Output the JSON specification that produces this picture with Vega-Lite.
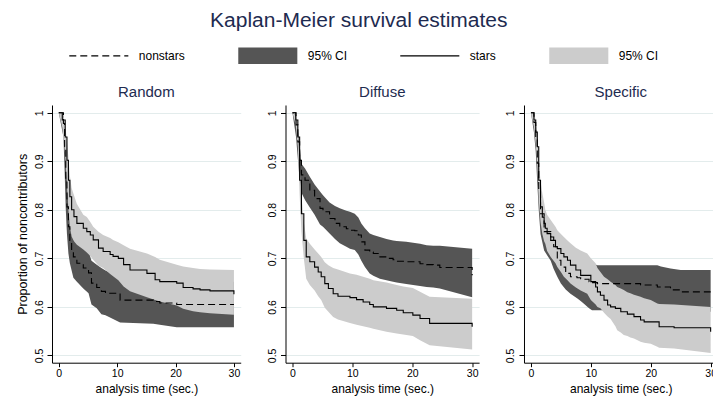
{
  "$schema": "https://vega.github.io/schema/vega-lite/v6.json",
  "background": "white",
  "padding": {"left": 16, "top": 10, "right": 0, "bottom": 6},
  "title": {"text": "Kaplan-Meier survival estimates", "fontSize": 21, "anchor": "middle", "frame": "bounds", "offset": 16.3, "dx": -8},
  "datasets": {
    "km": [
      {"p":"Random","g":"nonstars","t":0,"s":1,"lo":1,"hi":1},
      {"p":"Random","g":"nonstars","t":0.8,"s":0.978,"lo":0.95,"hi":0.995},
      {"p":"Random","g":"nonstars","t":1.0,"s":0.93,"lo":0.88,"hi":0.97},
      {"p":"Random","g":"nonstars","t":1.2,"s":0.861,"lo":0.80,"hi":0.91},
      {"p":"Random","g":"nonstars","t":1.4,"s":0.806,"lo":0.75,"hi":0.86},
      {"p":"Random","g":"nonstars","t":1.65,"s":0.765,"lo":0.71,"hi":0.82},
      {"p":"Random","g":"nonstars","t":1.9,"s":0.737,"lo":0.69,"hi":0.785},
      {"p":"Random","g":"nonstars","t":2.2,"s":0.715,"lo":0.675,"hi":0.76},
      {"p":"Random","g":"nonstars","t":2.5,"s":0.703,"lo":0.66,"hi":0.748},
      {"p":"Random","g":"nonstars","t":3.1,"s":0.69,"lo":0.652,"hi":0.735},
      {"p":"Random","g":"nonstars","t":4.2,"s":0.68,"lo":0.638,"hi":0.725},
      {"p":"Random","g":"nonstars","t":5.1,"s":0.67,"lo":0.628,"hi":0.715},
      {"p":"Random","g":"nonstars","t":5.6,"s":0.649,"lo":0.605,"hi":0.695},
      {"p":"Random","g":"nonstars","t":6.5,"s":0.64,"lo":0.597,"hi":0.687},
      {"p":"Random","g":"nonstars","t":7.3,"s":0.632,"lo":0.585,"hi":0.68},
      {"p":"Random","g":"nonstars","t":8.0,"s":0.628,"lo":0.583,"hi":0.675},
      {"p":"Random","g":"nonstars","t":10.5,"s":0.614,"lo":0.568,"hi":0.662},
      {"p":"Random","g":"nonstars","t":16.2,"s":0.611,"lo":0.565,"hi":0.658},
      {"p":"Random","g":"nonstars","t":17.3,"s":0.608,"lo":0.563,"hi":0.655},
      {"p":"Random","g":"nonstars","t":20.2,"s":0.605,"lo":0.558,"hi":0.652},
      {"p":"Random","g":"nonstars","t":30,"s":0.605,"lo":0.558,"hi":0.652},

      {"p":"Random","g":"stars","t":0,"s":1,"lo":1,"hi":1},
      {"p":"Random","g":"stars","t":0.6,"s":0.985,"lo":0.97,"hi":1.0},
      {"p":"Random","g":"stars","t":1.1,"s":0.95,"lo":0.915,"hi":0.978},
      {"p":"Random","g":"stars","t":1.4,"s":0.902,"lo":0.86,"hi":0.94},
      {"p":"Random","g":"stars","t":1.65,"s":0.861,"lo":0.80,"hi":0.909},
      {"p":"Random","g":"stars","t":1.9,"s":0.827,"lo":0.765,"hi":0.87},
      {"p":"Random","g":"stars","t":2.2,"s":0.80,"lo":0.745,"hi":0.845},
      {"p":"Random","g":"stars","t":2.6,"s":0.786,"lo":0.735,"hi":0.83},
      {"p":"Random","g":"stars","t":3.1,"s":0.772,"lo":0.728,"hi":0.812},
      {"p":"Random","g":"stars","t":4.2,"s":0.762,"lo":0.718,"hi":0.79},
      {"p":"Random","g":"stars","t":4.8,"s":0.755,"lo":0.712,"hi":0.785},
      {"p":"Random","g":"stars","t":5.4,"s":0.748,"lo":0.705,"hi":0.775},
      {"p":"Random","g":"stars","t":5.9,"s":0.738,"lo":0.697,"hi":0.765},
      {"p":"Random","g":"stars","t":6.8,"s":0.721,"lo":0.685,"hi":0.755},
      {"p":"Random","g":"stars","t":7.6,"s":0.714,"lo":0.68,"hi":0.748},
      {"p":"Random","g":"stars","t":8.8,"s":0.708,"lo":0.668,"hi":0.742},
      {"p":"Random","g":"stars","t":9.3,"s":0.704,"lo":0.663,"hi":0.738},
      {"p":"Random","g":"stars","t":10.2,"s":0.70,"lo":0.655,"hi":0.733},
      {"p":"Random","g":"stars","t":11.1,"s":0.687,"lo":0.642,"hi":0.727},
      {"p":"Random","g":"stars","t":12.2,"s":0.676,"lo":0.632,"hi":0.72},
      {"p":"Random","g":"stars","t":15.1,"s":0.669,"lo":0.62,"hi":0.71},
      {"p":"Random","g":"stars","t":16.5,"s":0.656,"lo":0.614,"hi":0.703},
      {"p":"Random","g":"stars","t":17.3,"s":0.652,"lo":0.611,"hi":0.697},
      {"p":"Random","g":"stars","t":20.2,"s":0.649,"lo":0.603,"hi":0.687},
      {"p":"Random","g":"stars","t":21.3,"s":0.64,"lo":0.596,"hi":0.683},
      {"p":"Random","g":"stars","t":23.0,"s":0.637,"lo":0.591,"hi":0.68},
      {"p":"Random","g":"stars","t":24.2,"s":0.635,"lo":0.589,"hi":0.678},
      {"p":"Random","g":"stars","t":25.9,"s":0.633,"lo":0.587,"hi":0.677},
      {"p":"Random","g":"stars","t":30,"s":0.626,"lo":0.584,"hi":0.676},

      {"p":"Diffuse","g":"nonstars","t":0,"s":1,"lo":1,"hi":1},
      {"p":"Diffuse","g":"nonstars","t":0.6,"s":0.975,"lo":0.95,"hi":0.995},
      {"p":"Diffuse","g":"nonstars","t":0.9,"s":0.94,"lo":0.905,"hi":0.965},
      {"p":"Diffuse","g":"nonstars","t":1.2,"s":0.902,"lo":0.862,"hi":0.93},
      {"p":"Diffuse","g":"nonstars","t":1.5,"s":0.872,"lo":0.835,"hi":0.895},
      {"p":"Diffuse","g":"nonstars","t":2.1,"s":0.861,"lo":0.82,"hi":0.885},
      {"p":"Diffuse","g":"nonstars","t":2.9,"s":0.84,"lo":0.805,"hi":0.868},
      {"p":"Diffuse","g":"nonstars","t":3.7,"s":0.823,"lo":0.79,"hi":0.852},
      {"p":"Diffuse","g":"nonstars","t":4.6,"s":0.803,"lo":0.77,"hi":0.838},
      {"p":"Diffuse","g":"nonstars","t":5.1,"s":0.796,"lo":0.765,"hi":0.83},
      {"p":"Diffuse","g":"nonstars","t":6.2,"s":0.782,"lo":0.751,"hi":0.815},
      {"p":"Diffuse","g":"nonstars","t":7.1,"s":0.772,"lo":0.74,"hi":0.808},
      {"p":"Diffuse","g":"nonstars","t":7.9,"s":0.765,"lo":0.731,"hi":0.803},
      {"p":"Diffuse","g":"nonstars","t":9.0,"s":0.761,"lo":0.724,"hi":0.798},
      {"p":"Diffuse","g":"nonstars","t":9.6,"s":0.758,"lo":0.72,"hi":0.796},
      {"p":"Diffuse","g":"nonstars","t":10.4,"s":0.757,"lo":0.717,"hi":0.792},
      {"p":"Diffuse","g":"nonstars","t":11.0,"s":0.748,"lo":0.708,"hi":0.784},
      {"p":"Diffuse","g":"nonstars","t":11.5,"s":0.734,"lo":0.695,"hi":0.772},
      {"p":"Diffuse","g":"nonstars","t":12.1,"s":0.717,"lo":0.682,"hi":0.762},
      {"p":"Diffuse","g":"nonstars","t":12.9,"s":0.713,"lo":0.669,"hi":0.751},
      {"p":"Diffuse","g":"nonstars","t":13.5,"s":0.71,"lo":0.664,"hi":0.748},
      {"p":"Diffuse","g":"nonstars","t":14.6,"s":0.703,"lo":0.658,"hi":0.744},
      {"p":"Diffuse","g":"nonstars","t":15.7,"s":0.70,"lo":0.655,"hi":0.74},
      {"p":"Diffuse","g":"nonstars","t":16.8,"s":0.697,"lo":0.652,"hi":0.737},
      {"p":"Diffuse","g":"nonstars","t":17.4,"s":0.694,"lo":0.65,"hi":0.736},
      {"p":"Diffuse","g":"nonstars","t":19.0,"s":0.693,"lo":0.647,"hi":0.734},
      {"p":"Diffuse","g":"nonstars","t":21.3,"s":0.689,"lo":0.643,"hi":0.73},
      {"p":"Diffuse","g":"nonstars","t":22.4,"s":0.687,"lo":0.641,"hi":0.727},
      {"p":"Diffuse","g":"nonstars","t":23.5,"s":0.686,"lo":0.64,"hi":0.726},
      {"p":"Diffuse","g":"nonstars","t":24.6,"s":0.681,"lo":0.638,"hi":0.726},
      {"p":"Diffuse","g":"nonstars","t":30,"s":0.665,"lo":0.62,"hi":0.72},

      {"p":"Diffuse","g":"stars","t":0,"s":1,"lo":1,"hi":1},
      {"p":"Diffuse","g":"stars","t":0.55,"s":0.985,"lo":0.975,"hi":0.995},
      {"p":"Diffuse","g":"stars","t":0.9,"s":0.95,"lo":0.93,"hi":0.97},
      {"p":"Diffuse","g":"stars","t":1.2,"s":0.861,"lo":0.83,"hi":0.89},
      {"p":"Diffuse","g":"stars","t":1.5,"s":0.792,"lo":0.755,"hi":0.83},
      {"p":"Diffuse","g":"stars","t":1.9,"s":0.737,"lo":0.70,"hi":0.775},
      {"p":"Diffuse","g":"stars","t":2.3,"s":0.703,"lo":0.658,"hi":0.741},
      {"p":"Diffuse","g":"stars","t":2.9,"s":0.693,"lo":0.645,"hi":0.73},
      {"p":"Diffuse","g":"stars","t":3.7,"s":0.682,"lo":0.634,"hi":0.718},
      {"p":"Diffuse","g":"stars","t":4.3,"s":0.672,"lo":0.622,"hi":0.71},
      {"p":"Diffuse","g":"stars","t":4.8,"s":0.662,"lo":0.614,"hi":0.703},
      {"p":"Diffuse","g":"stars","t":5.4,"s":0.648,"lo":0.598,"hi":0.692},
      {"p":"Diffuse","g":"stars","t":6.0,"s":0.638,"lo":0.59,"hi":0.686},
      {"p":"Diffuse","g":"stars","t":6.8,"s":0.627,"lo":0.579,"hi":0.68},
      {"p":"Diffuse","g":"stars","t":7.6,"s":0.622,"lo":0.574,"hi":0.677},
      {"p":"Diffuse","g":"stars","t":9.6,"s":0.619,"lo":0.567,"hi":0.669},
      {"p":"Diffuse","g":"stars","t":10.7,"s":0.615,"lo":0.563,"hi":0.666},
      {"p":"Diffuse","g":"stars","t":11.8,"s":0.61,"lo":0.56,"hi":0.662},
      {"p":"Diffuse","g":"stars","t":12.9,"s":0.605,"lo":0.557,"hi":0.658},
      {"p":"Diffuse","g":"stars","t":13.5,"s":0.60,"lo":0.555,"hi":0.655},
      {"p":"Diffuse","g":"stars","t":15.7,"s":0.597,"lo":0.549,"hi":0.65},
      {"p":"Diffuse","g":"stars","t":17.4,"s":0.593,"lo":0.545,"hi":0.645},
      {"p":"Diffuse","g":"stars","t":18.5,"s":0.588,"lo":0.543,"hi":0.642},
      {"p":"Diffuse","g":"stars","t":20.1,"s":0.583,"lo":0.54,"hi":0.639},
      {"p":"Diffuse","g":"stars","t":21.3,"s":0.576,"lo":0.531,"hi":0.631},
      {"p":"Diffuse","g":"stars","t":22.9,"s":0.566,"lo":0.521,"hi":0.621},
      {"p":"Diffuse","g":"stars","t":30,"s":0.559,"lo":0.512,"hi":0.617},

      {"p":"Specific","g":"nonstars","t":0,"s":1,"lo":1,"hi":1},
      {"p":"Specific","g":"nonstars","t":0.5,"s":0.98,"lo":0.96,"hi":1.0},
      {"p":"Specific","g":"nonstars","t":0.8,"s":0.95,"lo":0.92,"hi":0.975},
      {"p":"Specific","g":"nonstars","t":1.06,"s":0.896,"lo":0.855,"hi":0.93},
      {"p":"Specific","g":"nonstars","t":1.3,"s":0.84,"lo":0.80,"hi":0.88},
      {"p":"Specific","g":"nonstars","t":1.6,"s":0.792,"lo":0.75,"hi":0.835},
      {"p":"Specific","g":"nonstars","t":2.2,"s":0.755,"lo":0.716,"hi":0.795},
      {"p":"Specific","g":"nonstars","t":3.3,"s":0.744,"lo":0.695,"hi":0.775},
      {"p":"Specific","g":"nonstars","t":3.8,"s":0.724,"lo":0.678,"hi":0.76},
      {"p":"Specific","g":"nonstars","t":4.4,"s":0.696,"lo":0.662,"hi":0.74},
      {"p":"Specific","g":"nonstars","t":5.0,"s":0.682,"lo":0.648,"hi":0.725},
      {"p":"Specific","g":"nonstars","t":5.8,"s":0.669,"lo":0.636,"hi":0.71},
      {"p":"Specific","g":"nonstars","t":6.6,"s":0.662,"lo":0.627,"hi":0.702},
      {"p":"Specific","g":"nonstars","t":7.7,"s":0.66,"lo":0.618,"hi":0.70},
      {"p":"Specific","g":"nonstars","t":8.3,"s":0.658,"lo":0.612,"hi":0.698},
      {"p":"Specific","g":"nonstars","t":8.8,"s":0.657,"lo":0.607,"hi":0.697},
      {"p":"Specific","g":"nonstars","t":9.7,"s":0.652,"lo":0.597,"hi":0.692},
      {"p":"Specific","g":"nonstars","t":10.2,"s":0.65,"lo":0.593,"hi":0.69},
      {"p":"Specific","g":"nonstars","t":11.1,"s":0.648,"lo":0.593,"hi":0.686},
      {"p":"Specific","g":"nonstars","t":18.3,"s":0.645,"lo":0.593,"hi":0.686},
      {"p":"Specific","g":"nonstars","t":21.1,"s":0.641,"lo":0.593,"hi":0.686},
      {"p":"Specific","g":"nonstars","t":21.7,"s":0.641,"lo":0.593,"hi":0.683},
      {"p":"Specific","g":"nonstars","t":23.3,"s":0.635,"lo":0.59,"hi":0.679},
      {"p":"Specific","g":"nonstars","t":25,"s":0.631,"lo":0.59,"hi":0.676},
      {"p":"Specific","g":"nonstars","t":30,"s":0.631,"lo":0.59,"hi":0.676},

      {"p":"Specific","g":"stars","t":0,"s":1,"lo":1,"hi":1},
      {"p":"Specific","g":"stars","t":0.5,"s":0.985,"lo":0.97,"hi":1.0},
      {"p":"Specific","g":"stars","t":0.8,"s":0.96,"lo":0.935,"hi":0.985},
      {"p":"Specific","g":"stars","t":1.06,"s":0.93,"lo":0.89,"hi":0.96},
      {"p":"Specific","g":"stars","t":1.3,"s":0.861,"lo":0.82,"hi":0.9},
      {"p":"Specific","g":"stars","t":1.6,"s":0.806,"lo":0.775,"hi":0.86},
      {"p":"Specific","g":"stars","t":1.9,"s":0.785,"lo":0.75,"hi":0.834},
      {"p":"Specific","g":"stars","t":2.2,"s":0.772,"lo":0.735,"hi":0.815},
      {"p":"Specific","g":"stars","t":2.4,"s":0.762,"lo":0.73,"hi":0.80},
      {"p":"Specific","g":"stars","t":2.7,"s":0.751,"lo":0.715,"hi":0.79},
      {"p":"Specific","g":"stars","t":3.3,"s":0.737,"lo":0.703,"hi":0.779},
      {"p":"Specific","g":"stars","t":4.1,"s":0.724,"lo":0.69,"hi":0.765},
      {"p":"Specific","g":"stars","t":4.4,"s":0.72,"lo":0.682,"hi":0.758},
      {"p":"Specific","g":"stars","t":5.0,"s":0.71,"lo":0.672,"hi":0.75},
      {"p":"Specific","g":"stars","t":5.5,"s":0.703,"lo":0.662,"hi":0.744},
      {"p":"Specific","g":"stars","t":6.1,"s":0.696,"lo":0.655,"hi":0.737},
      {"p":"Specific","g":"stars","t":6.6,"s":0.686,"lo":0.648,"hi":0.731},
      {"p":"Specific","g":"stars","t":7.5,"s":0.676,"lo":0.64,"hi":0.722},
      {"p":"Specific","g":"stars","t":8.3,"s":0.665,"lo":0.634,"hi":0.716},
      {"p":"Specific","g":"stars","t":9.4,"s":0.665,"lo":0.627,"hi":0.71},
      {"p":"Specific","g":"stars","t":10.0,"s":0.652,"lo":0.614,"hi":0.70},
      {"p":"Specific","g":"stars","t":10.8,"s":0.641,"lo":0.605,"hi":0.69},
      {"p":"Specific","g":"stars","t":11.1,"s":0.631,"lo":0.60,"hi":0.68},
      {"p":"Specific","g":"stars","t":11.6,"s":0.624,"lo":0.597,"hi":0.672},
      {"p":"Specific","g":"stars","t":12.2,"s":0.614,"lo":0.588,"hi":0.662},
      {"p":"Specific","g":"stars","t":12.8,"s":0.604,"lo":0.58,"hi":0.657},
      {"p":"Specific","g":"stars","t":13.3,"s":0.60,"lo":0.575,"hi":0.652},
      {"p":"Specific","g":"stars","t":14.1,"s":0.597,"lo":0.56,"hi":0.645},
      {"p":"Specific","g":"stars","t":14.4,"s":0.597,"lo":0.552,"hi":0.641},
      {"p":"Specific","g":"stars","t":15.0,"s":0.59,"lo":0.547,"hi":0.638},
      {"p":"Specific","g":"stars","t":15.5,"s":0.59,"lo":0.542,"hi":0.635},
      {"p":"Specific","g":"stars","t":16.1,"s":0.585,"lo":0.54,"hi":0.63},
      {"p":"Specific","g":"stars","t":16.6,"s":0.585,"lo":0.537,"hi":0.628},
      {"p":"Specific","g":"stars","t":17.2,"s":0.58,"lo":0.535,"hi":0.625},
      {"p":"Specific","g":"stars","t":18.3,"s":0.573,"lo":0.528,"hi":0.621},
      {"p":"Specific","g":"stars","t":18.9,"s":0.569,"lo":0.526,"hi":0.618},
      {"p":"Specific","g":"stars","t":20.0,"s":0.569,"lo":0.524,"hi":0.614},
      {"p":"Specific","g":"stars","t":21.1,"s":0.569,"lo":0.518,"hi":0.607},
      {"p":"Specific","g":"stars","t":21.4,"s":0.559,"lo":0.516,"hi":0.606},
      {"p":"Specific","g":"stars","t":23.9,"s":0.557,"lo":0.514,"hi":0.605},
      {"p":"Specific","g":"stars","t":30,"s":0.549,"lo":0.505,"hi":0.60}
    ]
  },
  "data": {"name": "km"},
  "spacing": 44.5,
  "bounds": "flush",
  "resolve": {"scale": {"fill": "shared", "stroke": "shared", "strokeDash": "shared", "shape": "shared"}},
  "hconcat": [
    {
      "width": 188.7, "height": 257.7,
      "title": "Random",
      "transform": [{"filter": "datum.p == 'Random'"}],
      "encoding": {
        "x": {"field": "t", "type": "quantitative", "title": "analysis time (sec.)",
              "scale": {"domain": [-1.16, 31.16], "nice": false, "zero": false},
              "axis": {"values": [0, 10, 20, 30], "format": "d"}}
      },
      "layer": [
        {"transform": [{"filter": "datum.g == 'nonstars'"}, {"calculate": "'ci_' + datum.g", "as": "band"}],
         "mark": {"type": "area", "interpolate": "linear"},
         "encoding": {
           "y": {"field": "lo", "type": "quantitative", "title": "Proportion of noncontributors",
                 "scale": {"domain": [0.485, 1.016], "nice": false, "zero": false},
                 "axis": {"values": [0.5, 0.6, 0.7, 0.8, 0.9, 1], "format": "~g"}},
           "y2": {"field": "hi"},
           "fill": {"field": "band", "type": "nominal",
                    "scale": {"domain": ["nonstars", "ci_nonstars", "stars", "ci_stars"], "range": ["transparent", "#555555", "transparent", "#cccccc"]},
                    "legend": {"title": null, "labelExpr": "indexof(datum.value, 'ci_') == 0 ? '95% CI' : datum.value"}}
         }},
        {"transform": [{"filter": "datum.g == 'stars'"}, {"calculate": "'ci_' + datum.g", "as": "band"}],
         "mark": {"type": "area", "interpolate": "linear"},
         "encoding": {
           "y": {"field": "lo", "type": "quantitative", "title": "Proportion of noncontributors"},
           "y2": {"field": "hi"},
           "fill": {"field": "band", "type": "nominal",
                    "legend": {"title": null, "labelExpr": "indexof(datum.value, 'ci_') == 0 ? '95% CI' : datum.value"}}
         }},
        {"mark": {"type": "line", "interpolate": "step-after", "strokeWidth": 1.1},
         "encoding": {
           "y": {"field": "s", "type": "quantitative", "title": "Proportion of noncontributors"},
           "stroke": {"field": "g", "type": "nominal",
                      "scale": {"domain": ["nonstars", "ci_nonstars", "stars", "ci_stars"], "range": ["#000000", "transparent", "#000000", "transparent"]},
                      "legend": {"title": null, "labelExpr": "indexof(datum.value, 'ci_') == 0 ? '95% CI' : datum.value"}},
           "strokeDash": {"field": "g", "type": "nominal",
                      "scale": {"domain": ["nonstars", "ci_nonstars", "stars", "ci_stars"], "range": [[7, 4], [1, 0], [1, 0], [1, 0]]},
                      "legend": {"title": null, "labelExpr": "indexof(datum.value, 'ci_') == 0 ? '95% CI' : datum.value"}}
         }},
        {"mark": {"type": "point", "opacity": 0},
         "encoding": {
           "y": {"field": "s", "type": "quantitative", "title": "Proportion of noncontributors"},
           "shape": {"field": "g", "type": "nominal",
                     "scale": {"domain": ["nonstars", "ci_nonstars", "stars", "ci_stars"], "range": ["M-4,0H4", "M-4,-1.12H4V1.12H-4Z", "M-4,0H4", "M-4,-1.12H4V1.12H-4Z"]},
                     "legend": {"title": null, "labelExpr": "indexof(datum.value, 'ci_') == 0 ? '95% CI' : datum.value"}}
         }}
      ]
    },
    {
      "width": 193.6, "height": 257.7,
      "title": "Diffuse",
      "transform": [{"filter": "datum.p == 'Diffuse'"}],
      "encoding": {
        "x": {"field": "t", "type": "quantitative", "title": "analysis time (sec.)",
              "scale": {"domain": [-1.16, 31.16], "nice": false, "zero": false},
              "axis": {"values": [0, 10, 20, 30], "format": "d"}}
      },
      "layer": [
        {"transform": [{"filter": "datum.g == 'nonstars'"}, {"calculate": "'ci_' + datum.g", "as": "band"}],
         "mark": {"type": "area", "interpolate": "linear"},
         "encoding": {
           "y": {"field": "lo", "type": "quantitative", "title": null,
                 "scale": {"domain": [0.485, 1.016], "nice": false, "zero": false},
                 "axis": {"values": [0.5, 0.6, 0.7, 0.8, 0.9, 1], "format": "~g"}},
           "y2": {"field": "hi"},
           "fill": {"field": "band", "type": "nominal",
                    "scale": {"domain": ["nonstars", "ci_nonstars", "stars", "ci_stars"], "range": ["transparent", "#555555", "transparent", "#cccccc"]},
                    "legend": {"title": null, "labelExpr": "indexof(datum.value, 'ci_') == 0 ? '95% CI' : datum.value"}}
         }},
        {"transform": [{"filter": "datum.g == 'stars'"}, {"calculate": "'ci_' + datum.g", "as": "band"}],
         "mark": {"type": "area", "interpolate": "linear"},
         "encoding": {
           "y": {"field": "lo", "type": "quantitative", "title": null},
           "y2": {"field": "hi"},
           "fill": {"field": "band", "type": "nominal",
                    "legend": {"title": null, "labelExpr": "indexof(datum.value, 'ci_') == 0 ? '95% CI' : datum.value"}}
         }},
        {"mark": {"type": "line", "interpolate": "step-after", "strokeWidth": 1.1},
         "encoding": {
           "y": {"field": "s", "type": "quantitative", "title": null},
           "stroke": {"field": "g", "type": "nominal",
                      "scale": {"domain": ["nonstars", "ci_nonstars", "stars", "ci_stars"], "range": ["#000000", "transparent", "#000000", "transparent"]},
                      "legend": {"title": null, "labelExpr": "indexof(datum.value, 'ci_') == 0 ? '95% CI' : datum.value"}},
           "strokeDash": {"field": "g", "type": "nominal",
                      "scale": {"domain": ["nonstars", "ci_nonstars", "stars", "ci_stars"], "range": [[7, 4], [1, 0], [1, 0], [1, 0]]},
                      "legend": {"title": null, "labelExpr": "indexof(datum.value, 'ci_') == 0 ? '95% CI' : datum.value"}}
         }}
      ]
    },
    {
      "width": 193.6, "height": 257.7,
      "title": "Specific",
      "transform": [{"filter": "datum.p == 'Specific'"}],
      "encoding": {
        "x": {"field": "t", "type": "quantitative", "title": "analysis time (sec.)",
              "scale": {"domain": [-1.16, 31.16], "nice": false, "zero": false},
              "axis": {"values": [0, 10, 20, 30], "format": "d"}}
      },
      "layer": [
        {"transform": [{"filter": "datum.g == 'nonstars'"}, {"calculate": "'ci_' + datum.g", "as": "band"}],
         "mark": {"type": "area", "interpolate": "linear"},
         "encoding": {
           "y": {"field": "lo", "type": "quantitative", "title": null,
                 "scale": {"domain": [0.485, 1.016], "nice": false, "zero": false},
                 "axis": {"values": [0.5, 0.6, 0.7, 0.8, 0.9, 1], "format": "~g"}},
           "y2": {"field": "hi"},
           "fill": {"field": "band", "type": "nominal",
                    "scale": {"domain": ["nonstars", "ci_nonstars", "stars", "ci_stars"], "range": ["transparent", "#555555", "transparent", "#cccccc"]},
                    "legend": {"title": null, "labelExpr": "indexof(datum.value, 'ci_') == 0 ? '95% CI' : datum.value"}}
         }},
        {"transform": [{"filter": "datum.g == 'stars'"}, {"calculate": "'ci_' + datum.g", "as": "band"}],
         "mark": {"type": "area", "interpolate": "linear"},
         "encoding": {
           "y": {"field": "lo", "type": "quantitative", "title": null},
           "y2": {"field": "hi"},
           "fill": {"field": "band", "type": "nominal",
                    "legend": {"title": null, "labelExpr": "indexof(datum.value, 'ci_') == 0 ? '95% CI' : datum.value"}}
         }},
        {"mark": {"type": "line", "interpolate": "step-after", "strokeWidth": 1.1},
         "encoding": {
           "y": {"field": "s", "type": "quantitative", "title": null},
           "stroke": {"field": "g", "type": "nominal",
                      "scale": {"domain": ["nonstars", "ci_nonstars", "stars", "ci_stars"], "range": ["#000000", "transparent", "#000000", "transparent"]},
                      "legend": {"title": null, "labelExpr": "indexof(datum.value, 'ci_') == 0 ? '95% CI' : datum.value"}},
           "strokeDash": {"field": "g", "type": "nominal",
                      "scale": {"domain": ["nonstars", "ci_nonstars", "stars", "ci_stars"], "range": [[7, 4], [1, 0], [1, 0], [1, 0]]},
                      "legend": {"title": null, "labelExpr": "indexof(datum.value, 'ci_') == 0 ? '95% CI' : datum.value"}}
         }}
      ]
    }
  ],
  "config": {
    "font": "Liberation Sans",
    "view": {"stroke": null},
    "title": {"font": "Liberation Sans", "fontWeight": "normal", "color": "#1e2b50", "fontSize": 15, "offset": 5, "frame": "group"},
    "axis": {"labelFont": "Liberation Sans", "titleFont": "Liberation Sans", "titleFontWeight": "normal",
             "domainColor": "#000000", "tickColor": "#000000", "labelColor": "#000000", "titleColor": "#000000",
             "domainWidth": 1, "tickWidth": 1, "labelOverlap": false},
    "axisX": {"grid": false, "tickSize": 4, "labelFontSize": 10.5, "labelPadding": 2, "titleFontSize": 12, "titlePadding": 4, "labelFlush": false},
    "axisY": {"grid": true, "gridColor": "#e3ecec", "gridWidth": 1, "tickSize": 5, "labelAngle": -90, "labelAlign": "center",
              "labelBaseline": "alphabetic", "labelFontSize": 10.5, "labelPadding": 5, "titleFontSize": 12.5, "titlePadding": 5},
    "legend": {"orient": "none", "legendX": 38.3, "legendY": -57.7, "direction": "horizontal", "columns": 4, "gridAlign": "none",
               "columnPadding": 50, "labelOffset": 31.5, "symbolSize": 218, "symbolStrokeWidth": 1.3, "symbolOpacity": 1, "padding": 0,
               "labelFont": "Liberation Sans", "labelFontSize": 12, "labelColor": "#000000"}
  }
}
